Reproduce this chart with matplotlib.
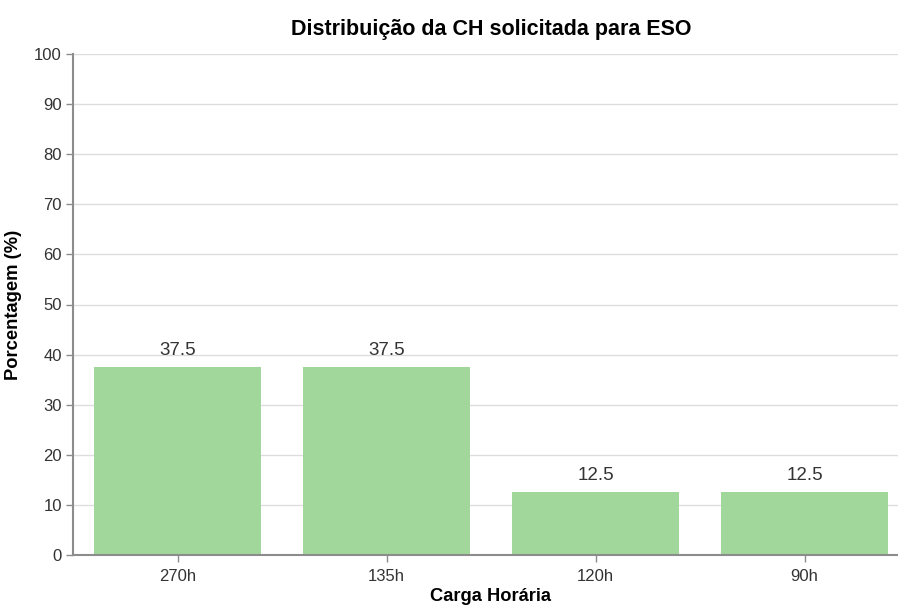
import matplotlib
matplotlib.use("Agg")
import matplotlib.pyplot as plt

# data
categorias = ["270h", "135h", "120h", "90h"]
percentuais = [37.5, 37.5, 12.5, 12.5]

plt.rcParams['font.family'] = ['Liberation Sans', 'DejaVu Sans']

fig = plt.figure(figsize=(8.98, 6.07), dpi=100)
W, H = 898, 607
# plot area in pixels (axis runs a bit past the right edge, as in the original)
x0, x1, y0, y1 = 73, 909, 54, 555
ax = fig.add_axes([x0 / W, (H - y1) / H, (x1 - x0) / W, (y1 - y0) / H])

pos = range(len(categorias))
bars = ax.bar(pos, percentuais, width=0.8, color="#a1d79b", zorder=2)

for b, v in zip(bars, percentuais):
    ax.annotate(f"{v}", (b.get_x() + b.get_width() / 2, v),
                xytext=(0, 6), textcoords="offset points",
                ha="center", va="bottom", fontsize=13.5, color="#333333")

ax.set_xlim(-0.5, len(categorias) - 0.5)
ax.set_ylim(0, 100)
ax.set_yticks(range(0, 101, 10))
ax.set_xticks(list(pos))
ax.set_xticklabels(categorias)

ax.grid(axis="y", color="#dddddd", linewidth=1, zorder=0)
ax.set_axisbelow(True)

for s in ["top", "right"]:
    ax.spines[s].set_visible(False)
for s in ["left", "bottom"]:
    ax.spines[s].set_color("#8c8c8c")
    ax.spines[s].set_linewidth(1.5)

ax.tick_params(axis="both", colors="#8c8c8c", length=5, width=1,
               labelcolor="#333333", labelsize=12, pad=3)
ax.tick_params(axis="x", pad=5)

ax.set_title("Distribuição da CH solicitada para ESO", fontsize=15.5,
             fontweight="bold", pad=14)
ax.set_xlabel("Carga Horária", fontsize=13.2, fontweight="bold", labelpad=3)
ax.set_ylabel("Porcentagem (%)", fontsize=13.2, fontweight="bold", labelpad=9)

fig.savefig("out.png", dpi=100)
